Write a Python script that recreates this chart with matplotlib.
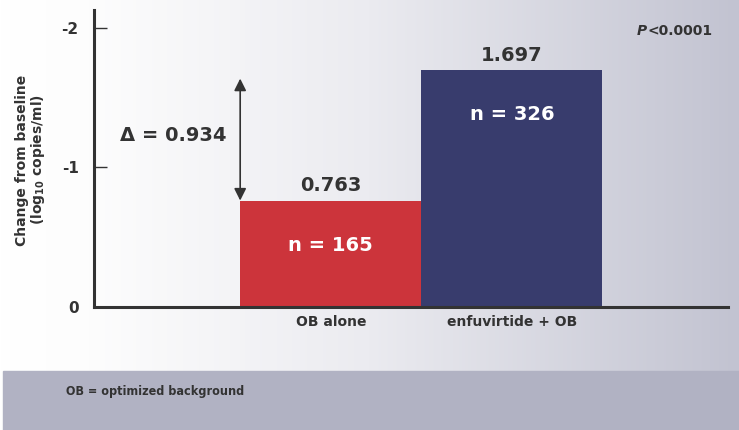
import matplotlib
matplotlib.use("Agg")
import matplotlib.pyplot as plt
import numpy as np
from matplotlib.colors import LinearSegmentedColormap

# data
groups = ["OB alone", "enfuvirtide + OB"]
change = [-0.763, -1.697]
value_labels = ["0.763", "1.697"]
n_labels = ["n = 165", "n = 326"]
bar_colors = ["#cc343b", "#383c6d"]
delta_label = "\u0394 = 0.934"
y_ticks = [0, -1, -2]
y_tick_labels = ["0", "-1", "-2"]

plt.rcParams["font.family"] = ["DejaVu Sans"]
plt.rcParams["mathtext.fontset"] = "dejavusans"
dark = "#333333"

fig = plt.figure(figsize=(7.39, 4.30), dpi=100)

# gradient background over whole figure
bg = fig.add_axes([0, 0, 1, 1], zorder=-10)
grad = np.linspace(0, 1, 256)[None, :]
cmap = LinearSegmentedColormap.from_list(
    "bg", [(0, "#ffffff"), (0.12, "#fdfdfd"), (0.5, "#ebebf0"), (1, "#c2c3d1")])
bg.imshow(grad, aspect="auto", cmap=cmap, extent=[0, 1, 0, 1])
bg.set_xlim(0, 1)
bg.set_ylim(0, 1)
bg.axis("off")
# footnote band
bg.add_patch(plt.Rectangle((3 / 739, 0), 1, 59 / 430, color="#b1b2c3", zorder=2))
fig.text(66 / 739, 1 - 391 / 430, "OB = optimized background", fontsize=9,
         fontweight="bold", fontstretch="condensed", color=dark,
         va="center", ha="left",
         family=["DejaVu Sans Condensed", "Liberation Sans Narrow", "DejaVu Sans"])

ax = fig.add_axes([94 / 739, 1 - 307 / 430, (728 - 94) / 739, (307 - 10) / 430])
ax.patch.set_alpha(0)

x = np.arange(len(groups))
ax.bar(x, change, width=1.0, color=bar_colors, zorder=2)

for xi, v, vl, nl in zip(x, change, value_labels, n_labels):
    ax.text(xi, v - 0.105, vl, ha="center", va="center", fontsize=14,
            fontweight="bold", color=dark)
    ax.text(xi, v + 0.32, nl, ha="center", va="center", fontsize=14,
            fontweight="bold", color="white")

# delta arrow at left edge of first bar
ax.annotate("", xy=(x[0] - 0.5, change[1]), xytext=(x[0] - 0.5, change[0]),
            arrowprops=dict(arrowstyle="<|-|>", color=dark, lw=1.2,
                            mutation_scale=18, shrinkA=0, shrinkB=6))
ax.text(x[0] - 0.87, (change[0] + change[1]) / 2, delta_label,
        ha="center", va="center", fontsize=14, fontweight="bold", color=dark)

pv = ax.text(0.975, 0.929, "<0.0001", transform=ax.transAxes,
             ha="right", va="center", fontsize=10, fontweight="bold", color=dark)
ax.annotate("P", xy=(0, 0.5), xycoords=pv, ha="right", va="center",
            fontsize=10, fontweight="bold", fontstyle="italic", color=dark)

ax.set_xlim(-1.307, 2.193)
ax.set_ylim(0, -2.129)
ax.set_yticks(y_ticks)
ax.set_yticklabels(y_tick_labels, fontsize=11, fontweight="bold", color=dark)
ax.set_xticks(x)
ax.set_xticklabels(groups, fontsize=10, fontweight="bold", color=dark)
ax.tick_params(axis="y", direction="in", length=9, width=1, color=dark, pad=11)
ax.tick_params(axis="x", length=0, pad=6)

for s in ["top", "right"]:
    ax.spines[s].set_visible(False)
for s in ["left", "bottom"]:
    ax.spines[s].set_color(dark)
    ax.spines[s].set_linewidth(2.2)

ax.set_ylabel("Change from baseline\n(log$_{\\mathbf{10}}$ copies/ml)", fontsize=10,
              fontweight="bold", color=dark, linespacing=1.0)
ax.yaxis.set_label_coords(-0.074, 0.495)

fig.savefig("out.png", dpi=100)
